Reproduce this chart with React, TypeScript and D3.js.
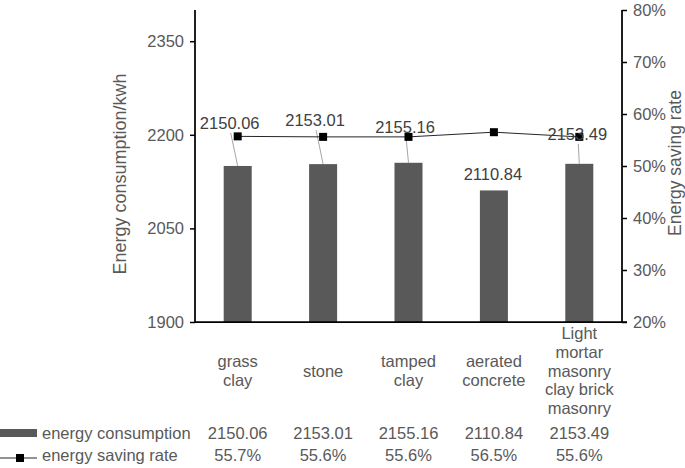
import React, { useEffect, useRef } from 'react';
import * as d3 from 'd3';

const categories = [
  ['grass', 'clay'],
  ['stone'],
  ['tamped', 'clay'],
  ['aerated', 'concrete'],
  ['Light', 'mortar', 'masonry', 'clay brick', 'masonry'],
];
const energyConsumption = [2150.06, 2153.01, 2155.16, 2110.84, 2153.49];
const savingRate = [0.557, 0.556, 0.556, 0.565, 0.556];
const leftTicks = [1900, 2050, 2200, 2350];
const rightTicks = [0.2, 0.3, 0.4, 0.5, 0.6, 0.7, 0.8];
const seriesNames = ['energy consumption', 'energy saving rate'];

// hand-placed data label offsets (from bar top centre), as dragged in the original
const labelOffsets = [
  { dx: -8, dy: -37, leader: true },
  { dx: -8, dy: -38, leader: true },
  { dx: -3.5, dy: -30, leader: true },
  { dx: -1, dy: -10, leader: false },
  { dx: -2, dy: -24, leader: true },
];

const W = 685;
const H = 468;
const FONT = 'Liberation Sans, Arial, sans-serif';

const App: React.FC = () => {
  const svgRef = useRef<SVGSVGElement>(null);

  useEffect(() => {
    if (!svgRef.current) return;
    const svg = d3.select(svgRef.current);
    svg.selectAll('*').remove();

    const plot = { left: 195, right: 622, top: 10, bottom: 322 };
    const keys = categories.map((_, i) => String(i));

    const x = d3.scaleBand().domain(keys).range([plot.left, plot.right]).padding(0);
    const barW = x.bandwidth() * 0.328;
    const cx = (i: number) => (x(String(i)) as number) + x.bandwidth() / 2;

    const yL = d3.scaleLinear().domain([1900, 2400]).range([plot.bottom, plot.top]);
    const yR = d3.scaleLinear().domain([0.2, 0.8]).range([plot.bottom, plot.top]);

    // bars
    svg.append('g')
      .selectAll('rect')
      .data(energyConsumption)
      .enter()
      .append('rect')
      .attr('x', (_, i) => cx(i) - barW / 2)
      .attr('y', (d) => yL(d))
      .attr('width', barW)
      .attr('height', (d) => plot.bottom - yL(d))
      .attr('fill', '#595959');

    // left axis
    const left = svg.append('g')
      .attr('transform', `translate(${plot.left},0)`)
      .call(d3.axisLeft(yL).tickValues(leftTicks).tickSize(5).tickPadding(6).tickFormat(d3.format('d')));
    left.select('.domain').remove();
    left.selectAll('line').attr('stroke', '#000').attr('stroke-width', 1.5);
    left.selectAll('text').attr('fill', '#595959').attr('font-size', 16.5).attr('font-family', FONT);
    svg.append('line')
      .attr('x1', plot.left).attr('x2', plot.left)
      .attr('y1', plot.top).attr('y2', plot.bottom)
      .attr('stroke', '#000').attr('stroke-width', 1.75);

    // right axis
    const right = svg.append('g')
      .attr('transform', `translate(${plot.right},0)`)
      .call(d3.axisRight(yR).tickValues(rightTicks).tickSize(5).tickPadding(6).tickFormat(d3.format('.0%')));
    right.select('.domain').remove();
    right.selectAll('line').attr('stroke', '#000').attr('stroke-width', 1.5);
    right.selectAll('text').attr('fill', '#595959').attr('font-size', 16.5).attr('font-family', FONT);
    svg.append('line')
      .attr('x1', plot.right).attr('x2', plot.right)
      .attr('y1', plot.top).attr('y2', plot.bottom)
      .attr('stroke', '#000').attr('stroke-width', 1.75);

    // baseline
    svg.append('line')
      .attr('x1', plot.left).attr('x2', plot.right + 5)
      .attr('y1', plot.bottom).attr('y2', plot.bottom)
      .attr('stroke', '#000').attr('stroke-width', 1.75);

    // leader lines + data labels
    const labels = svg.append('g').attr('font-family', FONT).attr('font-size', 16.5).attr('fill', '#404040');
    energyConsumption.forEach((v, i) => {
      const o = labelOffsets[i];
      const lx = cx(i) + o.dx;
      const ly = yL(v) + o.dy;
      if (o.leader) {
        svg.append('line')
          .attr('x1', cx(i)).attr('y1', yL(v))
          .attr('x2', lx + 1).attr('y2', ly + 4)
          .attr('stroke', '#a6a6a6').attr('stroke-width', 1);
      }
      labels.append('text')
        .attr('x', lx).attr('y', ly)
        .attr('text-anchor', 'middle')
        .text(v.toFixed(2));
    });

    // saving-rate line
    const line = d3.line<number>()
      .x((_, i) => cx(i))
      .y((d) => yR(d));
    svg.append('path')
      .datum(savingRate)
      .attr('fill', 'none')
      .attr('stroke', '#262626')
      .attr('stroke-width', 1)
      .attr('d', line);
    svg.append('g')
      .selectAll('rect')
      .data(savingRate)
      .enter()
      .append('rect')
      .attr('x', (_, i) => cx(i) - 4)
      .attr('y', (d) => yR(d) - 4)
      .attr('width', 8)
      .attr('height', 8)
      .attr('fill', '#000');

    labels.raise();

    // axis titles
    svg.append('text')
      .attr('transform', 'translate(120,174) rotate(-90)')
      .attr('text-anchor', 'middle')
      .attr('dy', '0.35em')
      .attr('font-family', FONT).attr('font-size', 18).attr('fill', '#595959')
      .text('Energy consumption/kwh');
    svg.append('text')
      .attr('transform', 'translate(675,163) rotate(-90)')
      .attr('text-anchor', 'middle')
      .attr('dy', '0.35em')
      .attr('font-family', FONT).attr('font-size', 17.5).attr('fill', '#595959')
      .text('Energy saving rate');

    // data table: category names
    const table = svg.append('g').attr('font-family', FONT).attr('font-size', 16.5).attr('fill', '#595959');
    const lh = 18.7;
    categories.forEach((lines, i) => {
      const t = table.append('text').attr('text-anchor', 'middle');
      const first = 376.5 - ((lines.length - 1) / 2) * lh;
      lines.forEach((s, k) => {
        t.append('tspan').attr('x', cx(i)).attr('y', first + k * lh).text(s);
      });
    });

    // data table: rows
    const rowY = [439, 461];
    energyConsumption.forEach((v, i) => {
      table.append('text').attr('x', cx(i)).attr('y', rowY[0]).attr('text-anchor', 'middle').text(v.toFixed(2));
    });
    savingRate.forEach((v, i) => {
      table.append('text').attr('x', cx(i)).attr('y', rowY[1]).attr('text-anchor', 'middle').text(d3.format('.1%')(v));
    });

    // legend keys
    svg.append('rect').attr('x', 0).attr('y', 429).attr('width', 37).attr('height', 8).attr('fill', '#595959');
    svg.append('line').attr('x1', 0).attr('x2', 37).attr('y1', 458).attr('y2', 458)
      .attr('stroke', '#262626').attr('stroke-width', 1);
    svg.append('rect').attr('x', 16).attr('y', 454).attr('width', 8).attr('height', 8).attr('fill', '#000');
    seriesNames.forEach((s, k) => {
      table.append('text').attr('x', 42).attr('y', rowY[k]).text(s);
    });
  }, []);

  return (
    <div style={{ position: 'absolute', left: 0, top: 0, width: W, height: H, background: '#fff' }}>
      <svg ref={svgRef} width={W} height={H}></svg>
    </div>
  );
};

export default App;
